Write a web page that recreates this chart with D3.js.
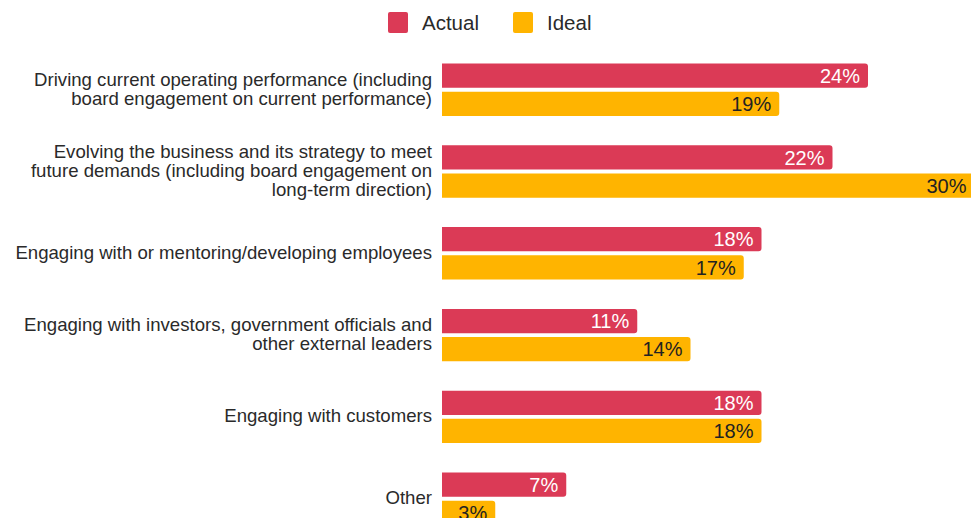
<!DOCTYPE html>
<html>
<head>
<meta charset="utf-8">
<script src="https://cdn.jsdelivr.net/npm/d3@7"></script>
<style>
  html, body { margin: 0; padding: 0; background: #fff; }
  svg { display: block; font-family: "Liberation Sans", Arial, sans-serif; }
</style>
</head>
<body>
<svg id="chart" width="971" height="518"></svg>
<script>
// Share of CEO time: actual vs. ideal allocation (%)
const categories = [
  ["Driving current operating performance (including", "board engagement on current performance)"],
  ["Evolving the business and its strategy to meet", "future demands (including board engagement on", "long-term direction)"],
  ["Engaging with or mentoring/developing employees"],
  ["Engaging with investors, government officials and", "other external leaders"],
  ["Engaging with customers"],
  ["Other"]
];
const seriesNames = ["Actual", "Ideal"];
const actualValues = [24, 22, 18, 11, 18, 7];
const idealValues  = [19, 30, 17, 14, 18, 3];

const colors = { Actual: "#DB3A56", Ideal: "#FFB400" };
const textColors = { Actual: "#ffffff", Ideal: "#222222" };

const svg = d3.select("#chart");

const rows = categories.map((lines, i) => ({
  key: "c" + i,
  lines,
  values: [
    { series: "Actual", value: actualValues[i] },
    { series: "Ideal", value: idealValues[i] }
  ]
}));

// Scales
const x = d3.scaleLinear().domain([0, 30]).range([442, 442 + 30 * 17.75]);
const y = d3.scaleBand()
  .domain(rows.map(d => d.key))
  .range([48.8, 539.6])
  .paddingInner(0.36)
  .paddingOuter(0.18);
const ySub = d3.scaleBand()
  .domain(seriesNames)
  .range([0, y.bandwidth()])
  .paddingInner(0.14);

// Bar with square left edge and rounded right end
function barPath(x0, y0, w, h, r) {
  r = Math.min(r, w, h / 2);
  const p = d3.path();
  p.moveTo(x0, y0);
  p.lineTo(x0 + w - r, y0);
  p.arcTo(x0 + w, y0, x0 + w, y0 + r, r);
  p.lineTo(x0 + w, y0 + h - r);
  p.arcTo(x0 + w, y0 + h, x0 + w - r, y0 + h, r);
  p.lineTo(x0, y0 + h);
  p.closePath();
  return p.toString();
}

const groups = svg.append("g").selectAll("g.row")
  .data(rows)
  .join("g")
  .attr("class", "row")
  .attr("transform", d => `translate(0,${y(d.key)})`);

groups.selectAll("path.bar")
  .data(d => d.values)
  .join("path")
  .attr("class", "bar")
  .attr("fill", d => colors[d.series])
  .attr("d", d => barPath(x(0), ySub(d.series), x(d.value) - x(0), ySub.bandwidth(), 3));

groups.selectAll("text.val")
  .data(d => d.values)
  .join("text")
  .attr("class", "val")
  .attr("x", d => x(d.value) - 8)
  .attr("y", d => ySub(d.series) + ySub.bandwidth() / 2)
  .attr("dy", "0.36em")
  .attr("text-anchor", "end")
  .attr("font-size", 20)
  .attr("fill", d => textColors[d.series])
  .text(d => d.value + "%");

// Category labels, right-aligned and centred on each group
const lineH = 19;
groups.append("text")
  .attr("class", "cat")
  .attr("text-anchor", "end")
  .attr("font-size", 18.6)
  .attr("fill", "#2a2a2a")
  .each(function (d) {
    const t = d3.select(this);
    const n = d.lines.length;
    const cy = y.bandwidth() / 2;
    d.lines.forEach((line, j) => {
      t.append("tspan")
        .attr("x", 432)
        .attr("y", cy + (j - (n - 1) / 2) * lineH - 1)
        .attr("dy", "0.35em")
        .text(line);
    });
  });

// Legend
const legend = svg.append("g").attr("transform", "translate(388,12)");
const legendX = { Actual: 0, Ideal: 125 };
seriesNames.forEach(name => {
  const g = legend.append("g").attr("transform", `translate(${legendX[name]},0)`);
  g.append("rect")
    .attr("width", 20).attr("height", 21).attr("rx", 2)
    .attr("fill", colors[name]);
  g.append("text")
    .attr("x", 34).attr("y", 10.5).attr("dy", "0.35em")
    .attr("font-size", 20.5)
    .attr("fill", "#2a2a2a")
    .text(name);
});
</script>
</body>
</html>
